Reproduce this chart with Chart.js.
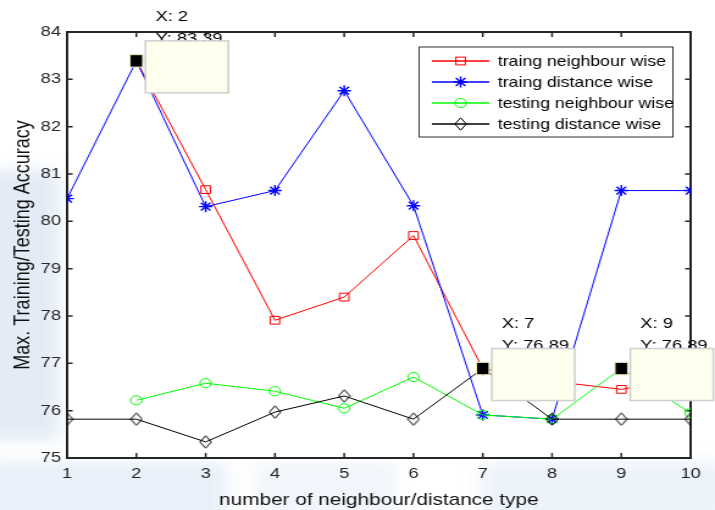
<!DOCTYPE html>
<html><head><meta charset="utf-8">
<script src="https://cdn.jsdelivr.net/npm/chart.js@4.4.1/dist/chart.umd.min.js"></script>
<style>html,body{margin:0;padding:0;background:#fff;overflow:hidden}
canvas{display:block}</style>
</head><body>
<canvas id="c" width="586" height="510" style="width:715px;height:510px"></canvas>
<script>
// ---- data ----
const xValues = [1, 2, 3, 4, 5, 6, 7, 8, 9, 10];
const trainNeighbour = [null, 83.39, 80.67, 77.91, 78.40, 79.70, 76.89, 76.62, 76.45, 76.70];
const trainDistance  = [80.48, 83.39, 80.31, 80.65, 82.76, 80.33, 75.91, 75.82, 80.65, 80.65];
const testNeighbour  = [null, 76.22, 76.58, 76.41, 76.05, 76.71, 75.91, 75.82, 76.89, 75.95];
const testDistance   = [75.82, 75.82, 75.34, 75.97, 76.31, 75.82, 76.89, 75.82, 75.82, 75.82];
const seriesNames = ['traing neighbour wise', 'traing distance wise', 'testing neighbour wise', 'testing distance wise'];
const yTicks = [75, 76, 77, 78, 79, 80, 81, 82, 83, 84];
const xTicks = [1, 2, 3, 4, 5, 6, 7, 8, 9, 10];
const tipX = [2, 7, 9];
const tipY = [83.39, 76.89, 76.89];
const xTitle = 'number of neighbour/distance type';
const yTitle = 'Max. Training/Testing Accuracy';

const FONT = '"Liberation Sans", Arial, Helvetica, sans-serif';

function makeDiamond() {
  const c = document.createElement('canvas');
  c.width = 11; c.height = 14;
  const g = c.getContext('2d');
  g.strokeStyle = '#000'; g.lineWidth = 1;
  g.beginPath();
  g.moveTo(5.5, 0.8); g.lineTo(10.2, 7); g.lineTo(5.5, 13.2); g.lineTo(0.8, 7);
  g.closePath(); g.stroke();
  return c;
}
const diamond = makeDiamond();

function pts(arr) { return xValues.map((x, i) => ({ x: x, y: arr[i] })); }

const colors = ['#ff0000', '#0000ff', '#00ff00', '#000000'];
const styles = ['rect', 'star', 'circle', diamond];
const radii = [5.5, 5.5, 4.6, 6];
const pbw = [1, 1.4, 1, 1];
const seriesData = [trainNeighbour, trainDistance, testNeighbour, testDistance];

const datasets = seriesData.map((arr, i) => ({
  label: seriesNames[i],
  data: pts(arr),
  borderColor: colors[i],
  backgroundColor: 'rgba(0,0,0,0)',
  borderWidth: 1,
  pointStyle: styles[i],
  pointRadius: radii[i],
  pointBorderWidth: pbw[i],
  pointBorderColor: colors[i],
  pointBackgroundColor: 'rgba(0,0,0,0)',
  tension: 0,
  spanGaps: false,
  order: 4 - i
}));

function drawMarker(ctx, i, x, y) {
  ctx.save();
  ctx.strokeStyle = colors[i];
  ctx.lineWidth = pbw[i];
  const r = radii[i];
  if (i === 0) {
    const s = Math.SQRT1_2 * r;
    ctx.strokeRect(x - s, y - s, 2 * s, 2 * s);
  } else if (i === 1) {
    ctx.beginPath();
    for (let k = 0; k < 4; k++) {
      const a = k * Math.PI / 4;
      ctx.moveTo(x - Math.cos(a) * r, y - Math.sin(a) * r);
      ctx.lineTo(x + Math.cos(a) * r, y + Math.sin(a) * r);
    }
    ctx.stroke();
  } else if (i === 2) {
    ctx.beginPath(); ctx.arc(x, y, r, 0, Math.PI * 2); ctx.stroke();
  } else {
    ctx.drawImage(diamond, x - diamond.width / 2, y - diamond.height / 2);
  }
  ctx.restore();
}

const framePlugin = {
  id: 'frame',
  beforeDraw(chart) {
    const ctx = chart.ctx, a = chart.chartArea;
    ctx.save();
    ctx.fillStyle = '#ffffff';
    ctx.fillRect(0, 0, chart.width, chart.height);
    // faint, soft background watermark
    ctx.filter = 'blur(7px)';
    ctx.fillStyle = 'rgba(200,218,238,0.5)';
    ctx.fillRect(-10, 170, 58, 270);
    ctx.fillStyle = 'rgba(210,226,243,0.5)';
    ctx.fillRect(-10, 462, 195, 60);
    ctx.fillStyle = 'rgba(218,232,246,0.4)';
    ctx.fillRect(210, 462, 115, 60);
    ctx.fillStyle = 'rgba(212,228,244,0.45)';
    ctx.fillRect(395, 462, 200, 60);
    ctx.filter = 'none';
    ctx.fillStyle = '#ffffff';
    ctx.fillRect(a.left, a.top, a.right - a.left, a.bottom - a.top);
    ctx.restore();
  },
  beforeDatasetsDraw(chart) {
    const ctx = chart.ctx, a = chart.chartArea;
    const xs = chart.scales.x, ys = chart.scales.y;
    ctx.save();
    ctx.strokeStyle = '#262626';
    ctx.lineWidth = 1.5;
    ctx.beginPath();
    xTicks.forEach(v => {
      const px = xs.getPixelForValue(v);
      ctx.moveTo(px, a.bottom); ctx.lineTo(px, a.bottom - 5);
      ctx.moveTo(px, a.top); ctx.lineTo(px, a.top + 5);
    });
    yTicks.forEach(v => {
      const py = ys.getPixelForValue(v);
      ctx.moveTo(a.left, py); ctx.lineTo(a.left + 4.5, py);
      ctx.moveTo(a.right, py); ctx.lineTo(a.right - 4.5, py);
    });
    ctx.stroke();
    ctx.lineWidth = 2;
    ctx.strokeRect(a.left, a.top, a.right - a.left, a.bottom - a.top);
    ctx.restore();
  },
  afterDraw(chart) {
    const ctx = chart.ctx;
    const xs = chart.scales.x, ys = chart.scales.y;
    ctx.save();
    // legend
    const L = 343.5, T = 47, W = 208, H = 90;
    ctx.fillStyle = '#ffffff';
    ctx.fillRect(L, T, W, H);
    ctx.strokeStyle = '#333333';
    ctx.lineWidth = 1;
    ctx.strokeRect(L, T, W, H);
    ctx.font = '14.5px ' + FONT;
    ctx.textBaseline = 'middle';
    ctx.textAlign = 'left';
    seriesNames.forEach((name, i) => {
      const y = 61 + i * 21;
      ctx.strokeStyle = colors[i];
      ctx.lineWidth = 1.6;
      ctx.beginPath(); ctx.moveTo(354, y); ctx.lineTo(401, y); ctx.stroke();
      drawMarker(ctx, i, 377.5, y);
      ctx.fillStyle = '#000000';
      ctx.fillText(name, 408, y + 0.5);
    });
    // data tips
    tipX.forEach((tx, k) => {
      const mx = xs.getPixelForValue(tx), my = ys.getPixelForValue(tipY[k]);
      ctx.fillStyle = '#000000';
      ctx.font = '15px ' + FONT;
      ctx.textBaseline = 'middle';
      ctx.fillText('X: ' + tx, mx + 15.6, my - 44.5);
      ctx.fillText('Y: ' + tipY[k].toFixed(2), mx + 15.6, my - 22.5);
      ctx.fillStyle = '#ffffee';
      ctx.fillRect(mx + 7.4, my - 20, 68, 52);
      ctx.strokeStyle = '#cfcfcf';
      ctx.lineWidth = 1.5;
      ctx.strokeRect(mx + 7.4, my - 20, 68, 52);
      ctx.fillStyle = '#000000';
      ctx.fillRect(mx - 5.2, my - 6.2, 10.4, 12.4);
      ctx.strokeStyle = '#ecebbe';
      ctx.lineWidth = 1;
      ctx.strokeRect(mx - 5.2, my - 6.2, 10.4, 12.4);
    });
    ctx.restore();
  }
};

new Chart(document.getElementById('c'), {
  type: 'line',
  data: { datasets: datasets },
  options: {
    responsive: false,
    animation: false,
    devicePixelRatio: 1,
    layout: { padding: { top: 32, right: 20, left: 0, bottom: 0 } },
    plugins: { legend: { display: false }, tooltip: { enabled: false } },
    scales: {
      x: {
        type: 'linear', min: 1, max: 10,
        afterBuildTicks: s => { s.ticks = xTicks.map(v => ({ value: v })); },
        afterFit: s => { s.height = 52; },
        grid: { display: false, drawTicks: false },
        border: { display: false },
        ticks: { padding: 7, color: '#262626', font: { family: FONT, size: 15 }, maxRotation: 0 },
        title: { display: true, text: xTitle, color: '#111', font: { family: FONT, size: 17, lineHeight: 1 }, padding: { top: 0, bottom: 1 } }
      },
      y: {
        min: 75, max: 84,
        afterBuildTicks: s => { s.ticks = yTicks.map(v => ({ value: v })); },
        afterFit: s => { s.width = 55; },
        grid: { display: false, drawTicks: false },
        border: { display: false },
        ticks: { padding: 5, color: '#262626', font: { family: FONT, size: 15 } },
        title: { display: true, text: yTitle, color: '#111', font: { family: FONT, size: 18, lineHeight: 1.2 }, padding: { top: 8, bottom: 0 } }
      }
    }
  },
  plugins: [framePlugin]
});
</script>
</body></html>
